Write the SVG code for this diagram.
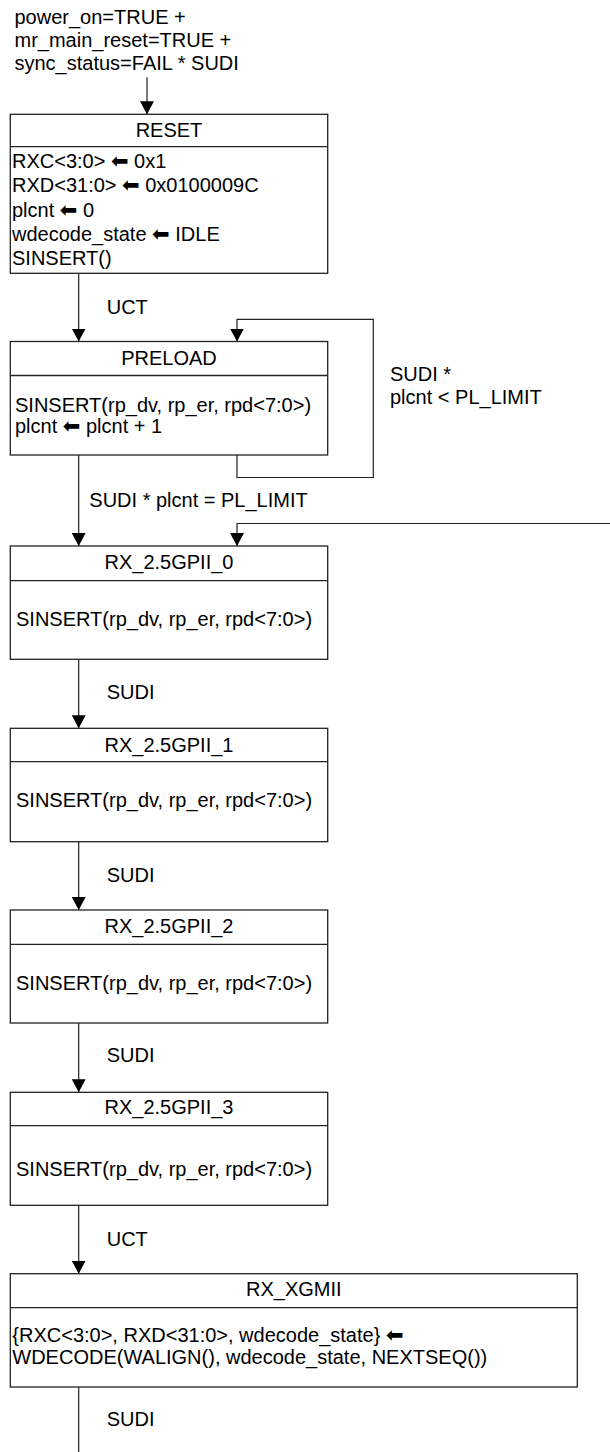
<svg xmlns="http://www.w3.org/2000/svg" width="610" height="1452" viewBox="0 0 610 1452">
<style>
text{font-family:"Liberation Sans",Arial,sans-serif;font-size:20px;fill:#000}
.t{text-anchor:middle}
.box{fill:#fff;stroke:#222;stroke-width:1.3}
.div{stroke:#222;stroke-width:1.3}
.c{fill:none;stroke:#222;stroke-width:1.2}
.ar{font-family:"DejaVu Sans",sans-serif;font-size:21px}
</style>
<defs>
<marker id="ah" viewBox="0 0 13 14" refX="13" refY="7" markerWidth="13" markerHeight="14" markerUnits="userSpaceOnUse" orient="auto">
<path d="M0,0 L13,7 L0,14 Z" fill="#000"/>
</marker>
</defs>
<g id="connectors">
<path class="c" d="M147,77.3 V114.3" marker-end="url(#ah)"/>
<path class="c" d="M78.7,273.3 V341.5" marker-end="url(#ah)"/>
<path class="c" d="M237,455 V477.5 H373.3 V319.3 H237 V341.5" marker-end="url(#ah)"/>
<path class="c" d="M78.7,455 V546" marker-end="url(#ah)"/>
<path class="c" d="M612,523.5 H237 V546" marker-end="url(#ah)"/>
<path class="c" d="M78.7,659.3 V728.3" marker-end="url(#ah)"/>
<path class="c" d="M78.7,841.7 V910" marker-end="url(#ah)"/>
<path class="c" d="M78.7,1023 V1092.3" marker-end="url(#ah)"/>
<path class="c" d="M78.7,1205.3 V1273.7" marker-end="url(#ah)"/>
<path class="c" d="M78.7,1387 V1452"/>
<text x="106.7" y="314">UCT</text>
<text x="390" y="381">SUDI *</text>
<text x="390" y="404.3">plcnt &lt; PL_LIMIT</text>
<text x="89.3" y="507.3">SUDI * plcnt = PL_LIMIT</text>
<text x="106.7" y="699.3">SUDI</text>
<text x="106.7" y="881.7">SUDI</text>
<text x="106.7" y="1062.3">SUDI</text>
<text x="106.7" y="1245.7">UCT</text>
<text x="106.7" y="1425.7">SUDI</text>
</g>
<g id="init">
<text x="14.5" y="24">power_on=TRUE +</text>
<text x="14.5" y="47.2">mr_main_reset=TRUE +</text>
<text x="14.5" y="70.4">sync_status=FAIL * SUDI</text>
</g>
<g id="RESET">
<rect class="box" x="10.3" y="114.3" width="317.4" height="159"/>
<line class="div" x1="10.3" y1="146.7" x2="327.7" y2="146.7"/>
<text class="t" x="169" y="137">RESET</text>
<text x="12" y="168">RXC&lt;3:0&gt; <tspan class="ar">⬅</tspan> 0x1</text>
<text x="12" y="192.3">RXD&lt;31:0&gt; <tspan class="ar">⬅</tspan> 0x0100009C</text>
<text x="12" y="216.6">plcnt <tspan class="ar">⬅</tspan> 0</text>
<text x="12" y="241">wdecode_state <tspan class="ar">⬅</tspan> IDLE</text>
<text x="12" y="265.3">SINSERT()</text>
</g>
<g id="PRELOAD">
<rect class="box" x="10.3" y="341.5" width="317.4" height="113.5"/>
<line class="div" x1="10.3" y1="375.5" x2="327.7" y2="375.5"/>
<text class="t" x="169" y="365">PRELOAD</text>
<text x="15" y="412.3">SINSERT(rp_dv, rp_er, rpd&lt;7:0&gt;)</text>
<text x="15" y="433.3">plcnt <tspan class="ar">⬅</tspan> plcnt + 1</text>
</g>
<g id="RX_2.5GPII_0">
<rect class="box" x="10.3" y="546" width="317.4" height="113.3"/>
<line class="div" x1="10.3" y1="580.7" x2="327.7" y2="580.7"/>
<text class="t" x="169" y="569.3">RX_2.5GPII_0</text>
<text x="16" y="626">SINSERT(rp_dv, rp_er, rpd&lt;7:0&gt;)</text>
</g>
<g id="RX_2.5GPII_1">
<rect class="box" x="10.3" y="728.3" width="317.4" height="113.4"/>
<line class="div" x1="10.3" y1="761.7" x2="327.7" y2="761.7"/>
<text class="t" x="169" y="751.7">RX_2.5GPII_1</text>
<text x="16" y="806.7">SINSERT(rp_dv, rp_er, rpd&lt;7:0&gt;)</text>
</g>
<g id="RX_2.5GPII_2">
<rect class="box" x="10.3" y="910" width="317.4" height="113"/>
<line class="div" x1="10.3" y1="944.3" x2="327.7" y2="944.3"/>
<text class="t" x="169" y="932.7">RX_2.5GPII_2</text>
<text x="16" y="990">SINSERT(rp_dv, rp_er, rpd&lt;7:0&gt;)</text>
</g>
<g id="RX_2.5GPII_3">
<rect class="box" x="10.3" y="1092.3" width="317.4" height="113"/>
<line class="div" x1="10.3" y1="1125.7" x2="327.7" y2="1125.7"/>
<text class="t" x="169" y="1114.3">RX_2.5GPII_3</text>
<text x="16" y="1176">SINSERT(rp_dv, rp_er, rpd&lt;7:0&gt;)</text>
</g>
<g id="RX_XGMII">
<rect class="box" x="10.3" y="1273.7" width="567" height="113.3"/>
<line class="div" x1="10.3" y1="1307.7" x2="577.3" y2="1307.7"/>
<text class="t" x="293.8" y="1296">RX_XGMII</text>
<text x="12.3" y="1341.7">{RXC&lt;3:0&gt;, RXD&lt;31:0&gt;, wdecode_state} <tspan class="ar">⬅</tspan></text>
<text x="12.3" y="1364.3">WDECODE(WALIGN(), wdecode_state, NEXTSEQ())</text>
</g>
</svg>
